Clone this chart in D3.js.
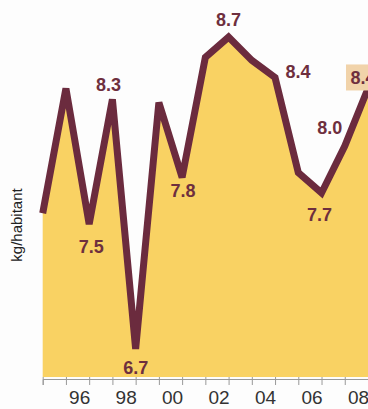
<html>
<head>
<script src="https://d3js.org/d3.v7.min.js"></script>
<style>
body { margin: 0; background-color: #fdfdfd; font-family: Arial, 'Liberation Sans', sans-serif; }
#svg { display: block; }
</style>
</head>
<body>
<svg id="svg"></svg>
<script>

// data
var years = [1994, 1995, 1996, 1997, 1998, 1999, 2000, 2001, 2002, 2003, 2004, 2005, 2006, 2007, 2008];
var values = [7.57, 8.37, 7.5, 8.3, 6.7, 8.28, 7.8, 8.57, 8.7, 8.55, 8.44, 7.83, 7.7, 8.0, 8.37];
var labelYears = [1996, 1997, 1998, 2000, 2002, 2004, 2006, 2007, 2008];
var labelTexts = ["7.5", "8.3", "6.7", "7.8", "8.7", "8.4", "7.7", "8.0", "8.4"];
var tickYears = [1996, 1998, 2000, 2002, 2004, 2006, 2008];
var tickLabels = ["96", "98", "00", "02", "04", "06", "08"];

// label nudges (layout only)
var labelNudge = [[2, 29], [-4, -8], [0, 25], [1, 20], [0, -11], [23, 0], [-2, 28], [-15, -12], [-5, -4]];

var W = 368, H = 409;
var svg = d3.select("#svg").attr("width", W).attr("height", H);

var x = d3.scaleLinear().domain([1994, 2008]).range([42.7, 368]);
var y = d3.scaleLinear().domain([6.52, 8.7]).range([377, 37]);

var data = years.map(function(d, i) { return {year: d, v: values[i]}; });

var area = d3.area()
	.x(function(d) { return x(d.year); })
	.y0(y(6.52))
	.y1(function(d) { return y(d.v); });

var line = d3.line()
	.x(function(d) { return x(d.year); })
	.y(function(d) { return y(d.v); });

svg.append("path")
	.datum(data)
	.attr("d", area)
	.style("fill", "#f9d263");

svg.append("path")
	.datum(data)
	.attr("d", line)
	.style("fill", "none")
	.style("stroke", "#6b2b3e")
	.style("stroke-width", 7);

// x axis
var xAxis = d3.axisBottom(x)
	.tickValues(years)
	.tickSize(6)
	.tickFormat(function(d) {
		var k = tickYears.indexOf(d);
		return k < 0 ? "" : tickLabels[k];
	});

var gx = svg.append("g")
	.attr("transform", "translate(0,379)")
	.call(xAxis);
gx.select(".domain").style("stroke", "#999").style("stroke-width", 1);
gx.selectAll(".tick line").style("stroke", "#999").attr("y1", -2);
gx.selectAll(".tick text")
	.attr("dx", -10)
	.attr("y", 12)
	.attr("dy", "0.71em")
	.style("font-family", "Arial, 'Liberation Sans', sans-serif")
	.style("font-size", "19px")
	.style("fill", "#333");

// y axis title
svg.append("text")
	.attr("transform", "translate(22,225) rotate(-90)")
	.text("kg/habitant")
	.style("text-anchor", "middle")
	.style("font-size", "15px")
	.style("fill", "#222");

// value labels
for (var i = 0; i < labelYears.length; i++) {
	var v = values[years.indexOf(labelYears[i])];
	var lx = x(labelYears[i]) + labelNudge[i][0];
	var ly = y(v) + labelNudge[i][1];
	if (i == labelYears.length - 1) { // last value sits in a box
		svg.append("rect")
			.attr("x", lx - 17)
			.attr("y", ly - 20)
			.attr("width", 40)
			.attr("height", 26)
			.style("fill", "#f1d3aa");
	}
	svg.append("text")
		.attr("x", lx)
		.attr("y", ly)
		.text(labelTexts[i])
		.style("text-anchor", "middle")
		.style("font-size", "18px")
		.style("font-weight", "bold")
		.style("fill", "#6e2f3e");
}

</script>
</body>
</html>
